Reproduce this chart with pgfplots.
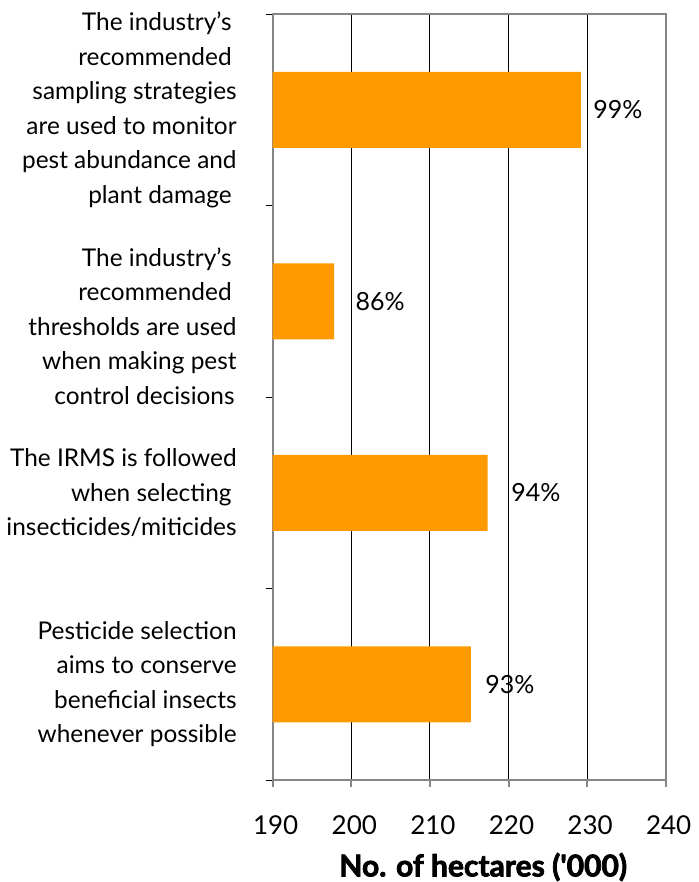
\documentclass[border=0pt]{standalone}
\usepackage{fontspec}
\setmainfont{Lato}
\newfontfamily\heavy[BoldFeatures={FakeBold=2.5}]{Lato}
\usepackage{pgfplots}
\pgfplotsset{compat=1.18}
\definecolor{barorange}{RGB}{255,153,0}
\definecolor{framegray}{RGB}{134,134,134}
\begin{document}
\begin{tikzpicture}
\path[use as bounding box] (0,0) rectangle (349pt,441pt);
\begin{axis}[
  at={(136.35pt,51pt)}, anchor=south west,
  scale only axis, width=196.5pt, height=383pt,
  xmin=190, xmax=240, xtick={190,200,...,240},
  ymin=-0.5, ymax=3.5, y dir=reverse,
  ytick={0,1.13,2,3},
  yticklabels={
    {The industry’s\kern2.5pt\\recommended\kern2.5pt\\sampling strategies\\are used to monitor\\pest abundance and\\plant damage\kern2.5pt},
    {The industry’s\kern2.5pt\\recommended\kern2.5pt\\thresholds are used\\when making pest\\control decisions\kern1pt},
    {The IRMS is followed\\when selecting\kern2.5pt\\insecticides/miticides},
    {Pesticide selection\\aims to conserve\\beneficial insects\\whenever possible}},
  minor ytick={-0.5,0.5,1.5,2.5,3.5},
  major y tick style={draw=none},
  minor y tick style={black, line width=0.5pt},
  xtick pos=bottom, ytick pos=left,
  tick align=outside,
  major tick length=3.5pt, minor tick length=3.5pt,
  x tick style={framegray, line width=1pt},
  xmajorgrids, major grid style={black, line width=0.5pt},
  axis line style={framegray, line width=1pt},
  /pgf/number format/assume math mode=true,
  xticklabel style={font=\fontsize{13}{15}\selectfont, yshift=-11pt, xshift=1.5pt},
  yticklabel style={font=\fontsize{12.2}{17.25}\selectfont, align=right, xshift=-11pt},
  xlabel={No. of hectares (\textquotesingle000)},
  xlabel style={font=\fontsize{15}{17}\selectfont\heavy\bfseries, at={(axis description cs:0.5,0)}, anchor=center, yshift=-43.5pt, xshift=7pt},
]
\addplot[xbar, bar width=38pt, fill=barorange, draw=none] coordinates {(229.2,0) (197.8,1) (217.35,2) (215.2,3)};
\addplot[draw=none, nodes near coords, point meta=explicit symbolic,
  nodes near coords style={anchor=west, inner sep=0pt, font=\fontsize{12.5}{15}\selectfont}]
  coordinates {(230.75,0)[99\%] (200.5,1)[86\%] (220.3,2)[94\%] (217.0,3)[93\%]};
\end{axis}
\end{tikzpicture}
\end{document}
